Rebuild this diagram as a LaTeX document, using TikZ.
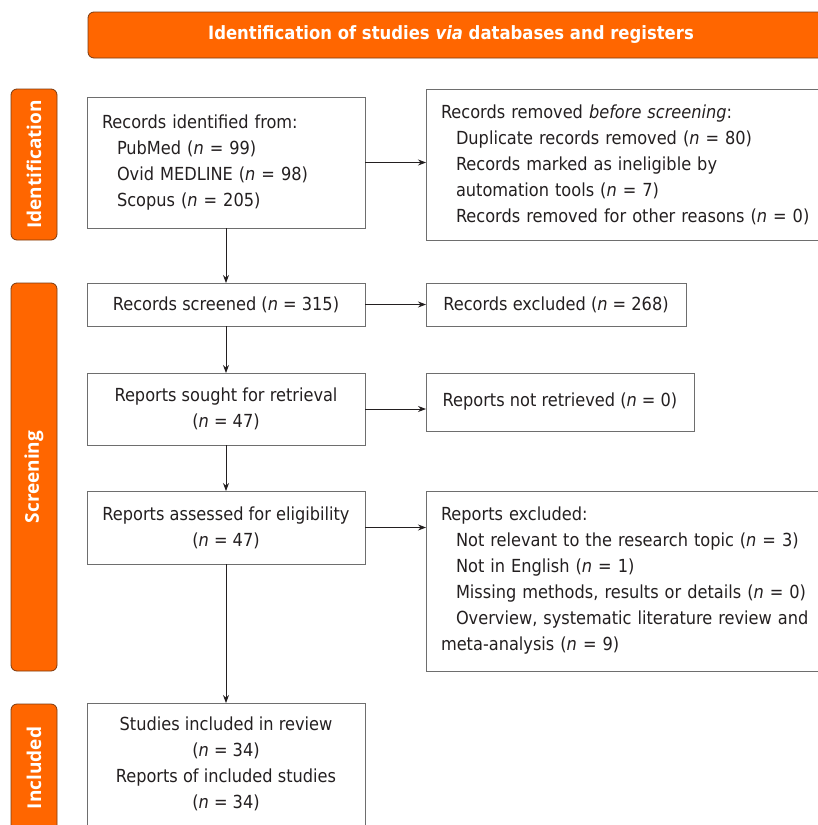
\documentclass[tikz,border=0pt]{standalone}
\usepackage{fontspec}
\setmainfont{DejaVu Sans Condensed}
\newfontfamily\phasefont{Open Sans}
\usetikzlibrary{positioning,arrows.meta}

\definecolor{prismaorange}{HTML}{FF6600}
\definecolor{prismaedge}{HTML}{7A3A10}
\definecolor{boxedge}{HTML}{6E6E6E}
\definecolor{ink}{HTML}{231F20}
\newcommand{\nn}{\textit{n}}
\newcommand{\ind}{\hspace*{15pt}}

\begin{document}
\begin{tikzpicture}[%
    x=1pt, y=-1pt,
    >={Stealth[length=8pt,width=6pt]},
    node distance=55pt,
    box/.style={draw=boxedge, line width=0.9pt, rectangle, text=ink,
      font=\fontsize{18}{26}\selectfont, inner xsep=15pt, inner ysep=0pt,
      outer sep=0pt, align=center},
    listbox/.style={box, align=left},
    phase/.style={draw=prismaedge, line width=0.8pt, fill=prismaorange,
      rounded corners=6pt, minimum height=46pt, text=white, rotate=90,
      font=\phasefont\bfseries\fontsize{19}{22}\selectfont},
    banner/.style={draw=prismaedge, line width=0.8pt, fill=prismaorange,
      rounded corners=6pt, minimum height=46pt, text=white,
      font=\bfseries\fontsize{18.3}{22}\selectfont},
    flow/.style={->, draw=ink, line width=0.8pt}
  ]
    \useasboundingbox (0,0) rectangle (818,825);

    % title and phases
    \node[banner, minimum width=742pt] (title) at (459,35)
      {Identification of studies \textit{via} databases and registers\hspace*{16pt}};
    \node[phase, minimum width=151pt] (idphase) at (34,164.5) {Identification};
    \node[phase, minimum width=388pt] (scphase) at (34,477) {Screening};
    \node[phase, minimum width=128pt] (inphase) at (34,768) {Included};

    % left column
    \node[listbox, text width=248pt, minimum height=131pt] (idrec) at (226,162.5)
      {Records identified from:\\
       \ind PubMed (\nn{} = 99)\\
       \ind Ovid MEDLINE (\nn{} = 98)\\
       \ind Scopus (\nn{} = 205)};
    \node[box, minimum width=278pt, minimum height=43pt] (screened) [below=of idrec]
      {Records screened (\nn{} = 315)};
    \node[box, minimum width=278pt, minimum height=72pt] (sought) [below=47pt of screened]
      {Reports sought for retrieval\\(\nn{} = 47)};
    \node[box, minimum width=278pt, minimum height=73pt] (assessed) [below=46pt of sought]
      {Reports assessed for eligibility\\(\nn{} = 47)};
    \node[box, minimum width=278pt, inner ysep=14pt] (included)
      [below=139pt of assessed.south, anchor=north]
      {Studies included in review\\(\nn{} = 34)\\
       Reports of included studies\\(\nn{} = 34)\rule[-30pt]{0pt}{0pt}};

    % right column
    \node[listbox, text width=374pt, minimum height=151pt] (removed)
      [right=61pt of idrec, yshift=-2pt]
      {Records removed \textit{before screening}:\\
       \ind Duplicate records removed (\nn{} = 80)\\
       \ind Records marked as ineligible by\\
       \ind automation tools (\nn{} = 7)\\
       \ind Records removed for other reasons (\nn{} = 0)};
    \node[box, minimum width=260pt, minimum height=43pt] (excluded)
      [right=61pt of screened]
      {Records excluded (\nn{} = 268)};
    \node[box, minimum width=268pt, minimum height=58pt] (notret)
      [right=61pt of sought.north east, anchor=north west]
      {Reports not retrieved (\nn{} = 0)};
    \node[listbox, text width=374pt, minimum height=180pt] (repexcl)
      [right=61pt of assessed.north east, anchor=north west]
      {Reports excluded:\\
       \ind Not relevant to the research topic (\nn{} = 3)\\
       \ind Not in English (\nn{} = 1)\\
       \ind Missing methods, results or details (\nn{} = 0)\\
       \ind Overview, systematic literature review and\\
       meta-analysis (\nn{} = 9)};

    % arrows
    \draw[flow] (idrec) -- (screened);
    \draw[flow] (screened) -- (sought);
    \draw[flow] (sought) -- (assessed);
    \draw[flow] (assessed) -- (included);
    \draw[flow] (idrec.east) -- (idrec.east -| removed.west);
    \draw[flow] (screened) -- (excluded);
    \draw[flow] (sought.east) -- (sought.east -| notret.west);
    \draw[flow] (assessed.east) -- (assessed.east -| repexcl.west);
\end{tikzpicture}
\end{document}
